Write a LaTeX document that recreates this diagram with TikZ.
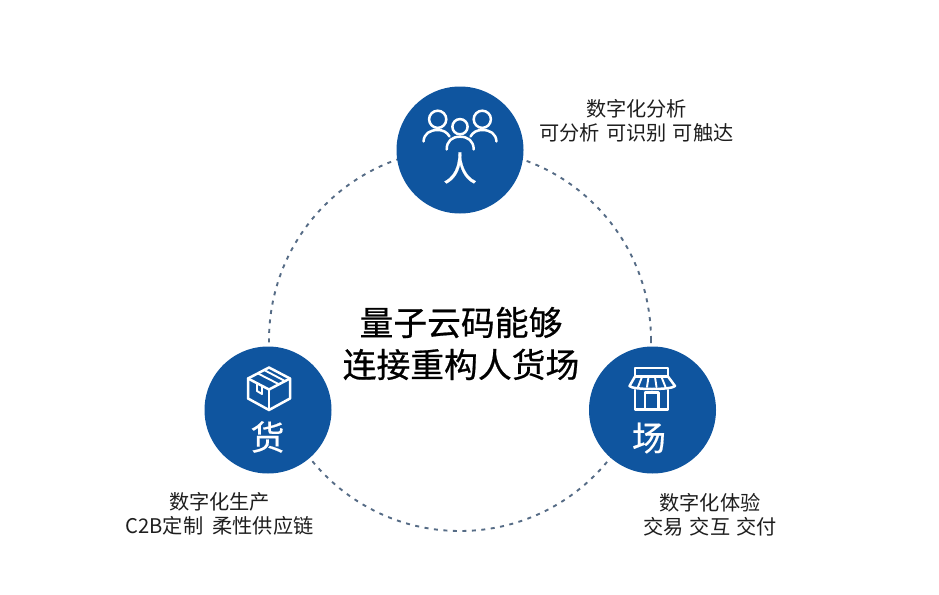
\documentclass[tikz,border=0pt]{standalone}
\usepackage{fontspec}
\setmainfont{Noto Sans CJK SC}
\newfontfamily\titlefont[FakeBold=0.6]{Noto Sans CJK SC}
\newfontfamily\glyphfont[FakeBold=0.5]{Noto Sans CJK SC}
\definecolor{hub}{HTML}{0F559F}
\definecolor{ringc}{HTML}{566C86}
\definecolor{ink}{HTML}{1E1E1E}
\tikzset{
  hubnode/.style={circle,fill=hub,minimum size=127pt,inner sep=0pt,draw=none},
  ringnode/.style={circle,draw=ringc,line width=1.9pt,dash pattern=on 4pt off 5.5pt,minimum size=382pt,inner sep=0pt},
  icon/.style={draw=white,line width=2.5pt,line cap=round,line join=round},
  thin icon/.style={draw=white,line width=1.9pt,line cap=round,line join=round},
  glyph/.style={text=white,font=\glyphfont\fontsize{34pt}{36pt}\selectfont,inner sep=0pt},
  note/.style={text=ink,font=\fontsize{20.2pt}{24.5pt}\selectfont,align=center,inner sep=0pt},
  title/.style={text=black,font=\titlefont\fontsize{33.8pt}{42pt}\selectfont,align=center,inner sep=0pt}
}
\begin{document}
\begin{tikzpicture}[x=1pt,y=-1pt]
\useasboundingbox (0,0) rectangle (939,594);
\fill[white] (0,0) rectangle (939,594);
\node[ringnode] (ring) at (460,340) {};
\node[hubnode] (ren) at (460,150) {};
\node[hubnode] (huo) at (268,410) {};
\node[hubnode] (chang) at (652.5,410) {};
% people icon
\draw[icon] (460,126.7) circle (7.6);
\draw[icon] (437.7,119.3) circle (8.6);
\draw[icon] (482.3,119.3) circle (8.6);
\draw[icon] (446.7,149.5) .. controls (446.7,141) and (452,136.7) .. (460,136.7) .. controls (468,136.7) and (473.7,141) .. (473.7,149.5);
\draw[icon] (423.5,141.5) .. controls (424,133.5) and (430,130) .. (437.7,130) .. controls (443,130) and (447,132) .. (449.5,136.5);
\draw[icon] (496.5,141.5) .. controls (496,133.5) and (490,130) .. (482.3,130) .. controls (477,130) and (473,132) .. (470.5,136.5);
% box icon
\draw[icon] (269,367.5) -- (290,378.5) -- (290,398.5) -- (269,410) -- (248,398.5) -- (248,378.5) -- cycle;
\draw[icon] (248,378.5) -- (269,389.5) -- (290,378.5);
\draw[icon] (269,389.5) -- (269,410);
\draw[thin icon] (258,373.5) -- (278.5,384);
\draw[thin icon] (265,370.5) -- (284,380.5);
\draw[thin icon] (257,384) -- (257,391) -- (262,394) -- (262,387);
% shop icon
\draw[icon] (635,368) -- (668,368) -- (668,376.5) -- (635,376.5) -- cycle;
\draw[icon] (635,376.5) -- (629.5,386) .. controls (632,390) and (672,390) .. (675,386) -- (668,376.5);
\draw[thin icon] (642,377) -- (638,387);
\draw[thin icon] (648.5,377) -- (647,387);
\draw[thin icon] (655,377) -- (656.5,387);
\draw[thin icon] (661.5,377) -- (665.5,387);
\draw[icon] (635,390) -- (635,409.5) -- (668,409.5) -- (668,390);
\draw[icon] (645,409.5) -- (645,392.5) -- (658.5,392.5) -- (658.5,409.5);
% glyphs
\node[glyph] (t1) at (460,168) {人};
\node[glyph] (t2) at (267.5,437) {货};
\node[glyph] (t3) at (649,438) {场};
\node[title] (center) at (461,343.5) {量子云码能够\\连接重构人货场};
\node[note] (n1) at (636.5,121) {数字化分析\\可分析\hspace{0.3em}可识别\hspace{0.3em}可触达};
\node[note] (n2) at (219.5,514) {数字化生产\\C2B定制\hspace{0.45em}柔性供应链};
\node[note] (n3) at (710,515) {数字化体验\\交易\hspace{0.3em}交互\hspace{0.3em}交付};
\end{tikzpicture}
\end{document}
